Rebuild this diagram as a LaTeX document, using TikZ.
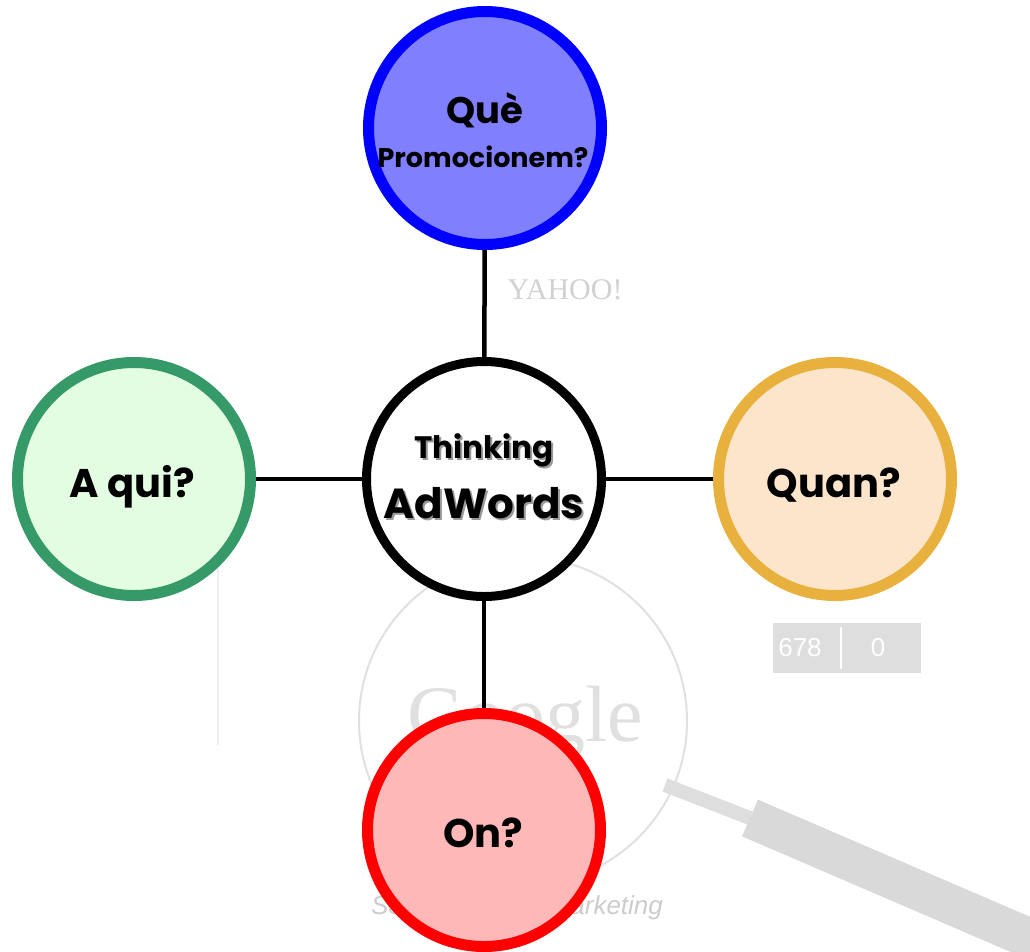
\documentclass[tikz,border=0pt]{standalone}
\usepackage{fontspec}
\setmainfont{Poppins}
\newfontfamily\bgserif{Liberation Serif}
\newfontfamily\bgsans{Liberation Sans}
\definecolor{cBlueB}{HTML}{0000FF}
\definecolor{cBlueF}{HTML}{8080FF}
\definecolor{cGreenB}{HTML}{359A68}
\definecolor{cGreenF}{HTML}{E3FDE3}
\definecolor{cOrangeB}{HTML}{E8B03C}
\definecolor{cOrangeF}{HTML}{FDE5CC}
\definecolor{cRedB}{HTML}{FF0000}
\definecolor{cRedF}{HTML}{FFB8B8}
\tikzset{
  bubble/.style={circle, inner sep=0pt, line width=11pt, minimum size=233pt},
  hub/.style={circle, inner sep=0pt, line width=9pt, minimum size=235pt, draw=black, fill=white},
  link/.style={line width=4.5pt, draw=black},
  lbl/.style={anchor=base, inner sep=0pt, font=\bfseries},
  bgtext/.style={inner sep=0pt, text=black!18},
}
\begin{document}
\begin{tikzpicture}[x=1pt,y=-1pt]
\useasboundingbox (0,0) rectangle (1030,951);
% faint background
\draw[black!7, line width=2pt] (218,520) -- (218,745);
\node[bgtext, font=\bgserif\fontsize{30}{30}\selectfont] (yahoo) at (565,290) {YAHOO!};
\node[draw=none, fill=black!13, minimum width=148pt, minimum height=50pt, inner sep=0pt] (counter) at (847,648) {};
\node[inner sep=0pt, text=white, font=\bgsans\fontsize{26}{26}\selectfont] (cntA) at (800,648) {678};
\node[inner sep=0pt, text=white, font=\bgsans\fontsize{26}{26}\selectfont] (cntB) at (878,648) {0};
\draw[white, line width=1.5pt] (counter.north) ++(-6,4) -- ++(0,42);
\coordinate (lensc) at (523,721);
\draw[black!12, line width=2pt] (lensc) circle (164);
\node[bgtext, text=black!12, font=\bgserif\fontsize{80}{80}\selectfont] (google) at (525,722) {Google};
\coordinate (h0) at (665,785);
\coordinate (h1) at (750,818);
\coordinate (h2) at (1045,945);
\draw[black!13, line width=14pt] (h0) -- (h1);
\draw[black!15, line width=40pt] (h1) -- (h2);
\node[bgtext, text=black!20, font=\bgsans\itshape\fontsize{26}{26}\selectfont] (sem) at (517,908) {Search Engine Marketing};
% bubbles
\node[bubble, draw=cBlueB, fill=cBlueF] (what) at (485,128) {};
\node[bubble, draw=cGreenB, fill=cGreenF] (who) at (134,479) {};
\node[bubble, draw=cOrangeB, fill=cOrangeF] (when) at (835,479) {};
\node[bubble, draw=cRedB, fill=cRedF] (where) at (484,830) {};
\node[hub] (hub) at (484,479) {};
% connectors
\draw[link] (what) -- (hub);
\draw[link] (who) -- (hub);
\draw[link] (when) -- (hub);
\draw[link] (where) -- (hub);
% labels
\node[lbl, font=\bfseries\fontsize{37}{37}\selectfont] (whatA) at (485,123) {Què};
\node[lbl, font=\bfseries\fontsize{27}{27}\selectfont] (whatB) at (483,167) {Promocionem?};
\node[lbl, font=\bfseries\fontsize{40}{40}\selectfont] (whoT) at (132,497) {A qui?};
\node[lbl, font=\bfseries\fontsize{40}{40}\selectfont] (whenT) at (834,497) {Quan?};
\node[lbl, font=\bfseries\fontsize{40}{40}\selectfont] (whereT) at (483,847) {On?};
\node[lbl, text=black!40, font=\bfseries\fontsize{31}{31}\selectfont] (hubAs) at (486,460) {Thinking};
\node[lbl, text=black!40, font=\bfseries\fontsize{42}{42}\selectfont] (hubBs) at (486,520) {AdWords};
\node[lbl, font=\bfseries\fontsize{31}{31}\selectfont] (hubA) at (484,458) {Thinking};
\node[lbl, font=\bfseries\fontsize{42}{42}\selectfont] (hubB) at (484,518) {AdWords};
\end{tikzpicture}
\end{document}
